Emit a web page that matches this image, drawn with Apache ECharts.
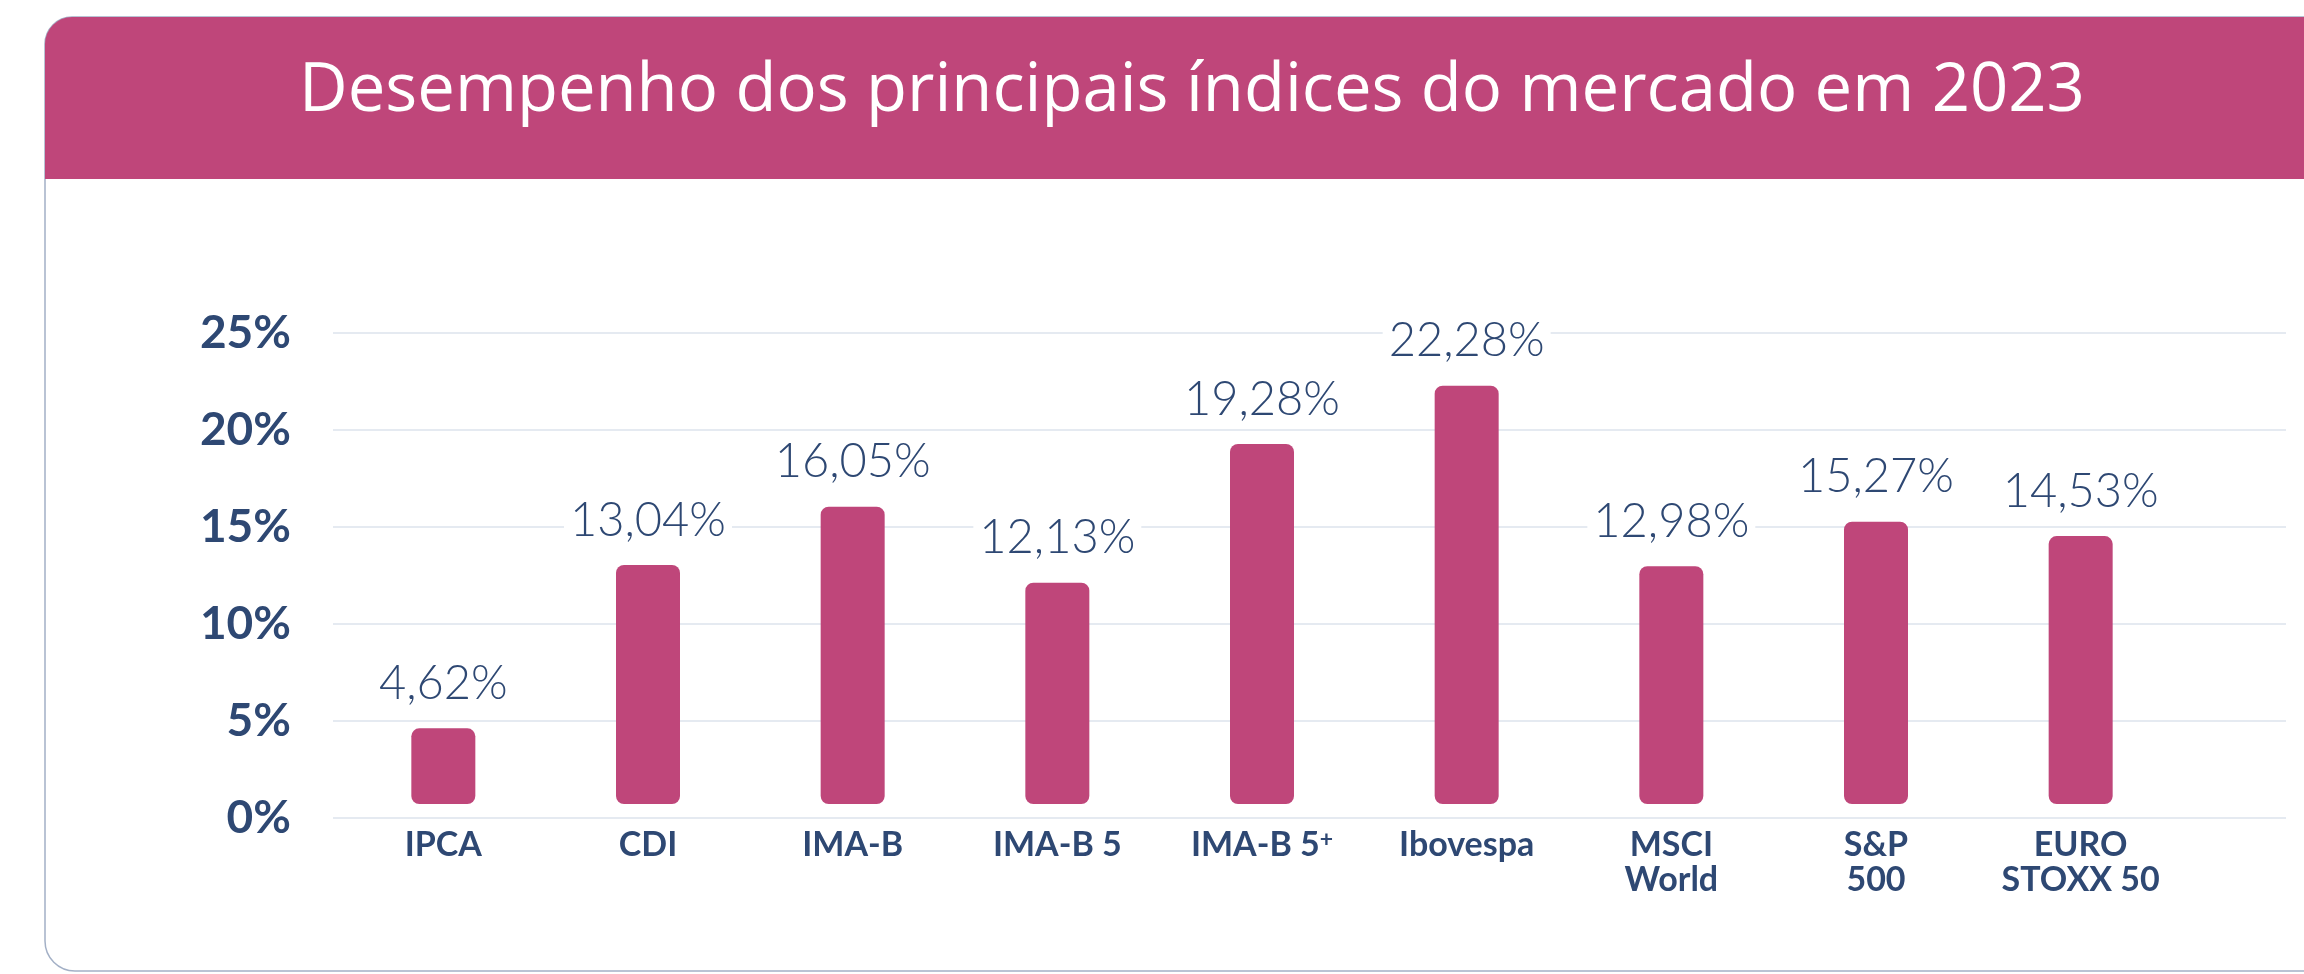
<!DOCTYPE html>
<html>
<head>
<meta charset="utf-8">
<script src="https://cdn.jsdelivr.net/npm/echarts@6/dist/echarts.min.js"></script>
<style>
html,body{margin:0;padding:0;background:#ffffff;}
#chart{width:2304px;height:974px;}
</style>
</head>
<body>
<div id="chart"></div>
<script>
const titleText = 'Desempenho dos principais índices do mercado em 2023';
const categories = ['IPCA', 'CDI', 'IMA-B', 'IMA-B 5', 'IMA-B 5+', 'Ibovespa', 'MSCI\nWorld', 'S&P\n500', 'EURO\nSTOXX 50'];
const values = [4.62, 13.04, 16.05, 12.13, 19.28, 22.28, 12.98, 15.27, 14.53];
const yTicks = [0, 5, 10, 15, 20, 25];

const PINK = '#bf467a';
const NAVY = '#2e4873';
const FONT = 'Lato, "Open Sans", sans-serif';

const chart = echarts.init(document.getElementById('chart'), null, {renderer: 'canvas'});

function fmtVal(v) { return v.toFixed(2).replace('.', ',') + '%'; }

const option = {
  backgroundColor: '#ffffff',
  animation: false,
  graphic: [
    { type: 'rect', z: -20, shape: { x: 45, y: 17, width: 2400, height: 954, r: [27, 0, 0, 30] },
      style: { fill: '#ffffff', stroke: '#a3b0c6', lineWidth: 1.5 } },
    { type: 'rect', z: -10, shape: { x: 45, y: 17, width: 2400, height: 162, r: [27, 0, 0, 0] },
      style: { fill: PINK } },
    { type: 'text', z: -5, style: { text: titleText, x: 1192, y: 92, textAlign: 'center', textVerticalAlign: 'middle',
        fill: '#ffffff', font: '500 67px "Open Sans", Lato, sans-serif' } }
  ],
  grid: [
    { left: 333, right: 18, top: 333, bottom: 156 },
    { left: 341, right: 121, top: 333, bottom: 156 }
  ],
  xAxis: [
    { type: 'category', gridIndex: 0, data: categories, show: false },
    { type: 'category', gridIndex: 1, data: categories, boundaryGap: true,
      axisLine: { show: false }, axisTick: { show: false },
      axisLabel: {
        interval: 0, margin: 10, color: NAVY, fontFamily: FONT, fontWeight: 'bold', fontSize: 34, lineHeight: 35,
        formatter: function (v) { return v.indexOf('5+') >= 0 ? v.replace('+', '{sup|+}') : v; },
        rich: { sup: { fontSize: 23, fontWeight: 'bold', color: NAVY, fontFamily: FONT, padding: [0, 0, 12, 0] } }
      } }
  ],
  yAxis: [
    { type: 'value', gridIndex: 0, min: yTicks[0], max: yTicks[yTicks.length - 1], interval: yTicks[1] - yTicks[0],
      axisLine: { show: false }, axisTick: { show: false },
      splitLine: { show: true, lineStyle: { color: '#dde3ec', width: 1.5 } },
      axisLabel: { margin: 42, color: NAVY, fontFamily: FONT, fontWeight: 'bold', fontSize: 46,
        formatter: function (v) { return v + '%'; } } },
    { type: 'value', gridIndex: 1, min: yTicks[0], max: yTicks[yTicks.length - 1], interval: yTicks[1] - yTicks[0],
      show: false, splitLine: { show: false } }
  ],
  series: [{
    type: 'custom', xAxisIndex: 1, yAxisIndex: 1,
    data: values.map(function (v, i) { return [i, v]; }),
    renderItem: function (params, api) {
      const top = api.coord([api.value(0), api.value(1)]);
      const base = api.coord([api.value(0), 0]);
      const w = 64;
      const bottom = base[1] - 14;
      return {
        type: 'group',
        children: [
          { type: 'rect', shape: { x: top[0] - w / 2, y: top[1], width: w, height: bottom - top[1], r: 8 },
            style: { fill: PINK } },
          { type: 'text', z2: 10, style: { text: fmtVal(api.value(1)), x: top[0], y: top[1] - 21,
              textAlign: 'center', textVerticalAlign: 'bottom', fill: NAVY,
              font: '300 47px ' + FONT, backgroundColor: '#ffffff', padding: [0, 6, 0, 6] } }
        ]
      };
    }
  }]
};
chart.setOption(option);
</script>
</body>
</html>
